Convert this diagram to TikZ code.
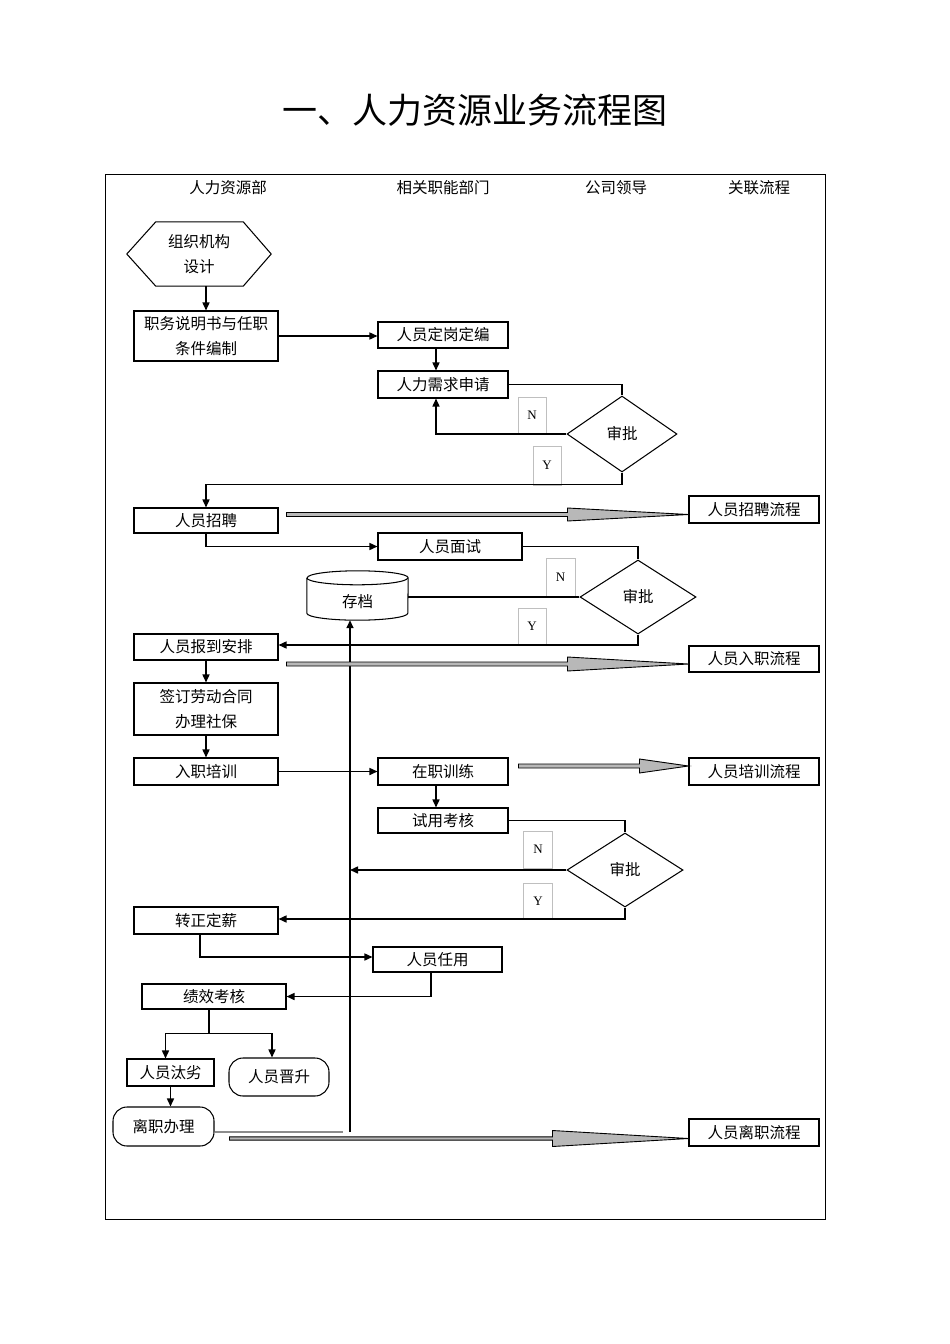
\documentclass[tikz,border=0pt]{standalone}
\usepackage{fontspec}
\setmainfont{Liberation Serif}
\newfontfamily\cjk{Noto Sans CJK SC}
\usetikzlibrary{arrows.meta,shapes.geometric,calc}
\newcommand\blockarrow[5]{\draw[barrow] let \p1=(#1), \p2=(#2) in (\x1,\y1+#4) -- (\x2-#3,\y1+#4) -- (\x2-#3,\y1+#5) -- (\x2,\y1) -- (\x2-#3,\y1-#5) -- (\x2-#3,\y1-#4) -- (\x1,\y1-#4) -- cycle;}
\tikzset{
  box/.style={draw, line width=1.05pt, rectangle, inner sep=0pt, font=\cjk\fontsize{15.5}{25}\selectfont, align=center},
  rbox/.style={box, rounded corners=14pt},
  plain/.style={inner sep=0pt, font=\cjk\fontsize{15.5}{25}\selectfont, align=center},
  yn/.style={draw=black!25, line width=0.7pt, inner sep=0pt, font=\fontsize{13}{13}\selectfont},
  dia/.style={diamond, draw, line width=1.05pt, inner sep=0pt, font=\cjk\fontsize{15.5}{20}\selectfont},
  conn/.style={line width=1.5pt},
  arr/.style={conn, -{Triangle[length=8pt,width=7pt]}},
  barrow/.style={draw, line width=0.9pt, fill=black!28},
  thick edge/.style={line width=1.9pt},
}
\begin{document}
\begin{tikzpicture}[x=1pt,y=-1pt]
\useasboundingbox (0,0) rectangle (950,1344);
% title
\node[font=\cjk\fontsize{35}{40}\selectfont] (title) at (475,110) {一、人力资源业务流程图};
% frame
\draw[line width=1pt] (105,174) rectangle (825,1219);
% headers
\node[plain] (h1) at (228,188) {人力资源部};
\node[plain] (h2) at (443,188) {相关职能部门};
\node[plain] (h3) at (616,188) {公司领导};
\node[plain] (h4) at (759,188) {关联流程};
% N/Y label boxes
\node[yn, minimum width=28pt, minimum height=36pt] (n1) at (532,415) {N};
\node[yn, minimum width=28pt, minimum height=39pt] (y1) at (547,465.5) {Y};
\node[yn, minimum width=29pt, minimum height=39pt] (n2) at (560.5,577.5) {N};
\node[yn, minimum width=28pt, minimum height=37pt] (y2) at (532,626.5) {Y};
\node[yn, minimum width=29pt, minimum height=37pt] (n3) at (538,849.5) {N};
\node[yn, minimum width=29pt, minimum height=36pt] (y3) at (538,901) {Y};
% hexagon
\node[plain, minimum width=144pt, minimum height=64pt] (hex) at (199,254) {组织机构\\设计};
\draw[line width=1.05pt] (hex.west) -- ([xshift=29pt]hex.north west) -- ([xshift=-28pt]hex.north east) -- (hex.east) -- ([xshift=-28pt]hex.south east) -- ([xshift=29pt]hex.south west) -- cycle;
% boxes
\node[box, minimum width=144pt, minimum height=50pt] (job) at (206,336) {职务说明书与任职\\条件编制};
\node[box, minimum width=130pt, minimum height=26pt] (dg) at (443,335) {人员定岗定编};
\node[box, minimum width=130pt, minimum height=27pt] (xq) at (443,384.5) {人力需求申请};
\node[dia, minimum width=110pt, minimum height=76pt] (d1) at (622,434) {审批};
\node[box, minimum width=144pt, minimum height=25pt] (zp) at (206,520.5) {人员招聘};
\node[box, minimum width=130pt, minimum height=27pt] (zplc) at (754,509.5) {人员招聘流程};
\node[box, minimum width=144pt, minimum height=27pt] (ms) at (450,546.5) {人员面试};
\node[dia, minimum width=116pt, minimum height=74pt] (d2) at (638,597) {审批};
\node[plain, minimum width=101pt, minimum height=49pt] (cd) at (357.5,595.5) {};
\node[plain] (cdt) at (357.5,602) {存档};
\draw[line width=1.05pt] ([yshift=-7pt]cd.north west) -- ([yshift=7pt]cd.south west) arc[start angle=180, end angle=360, x radius=50.5pt, y radius=7pt] -- ([yshift=-7pt]cd.north east) arc[start angle=0, end angle=180, x radius=50.5pt, y radius=7pt];
\draw[line width=1.05pt] ([yshift=-7pt]cd.north west) arc[start angle=180, end angle=360, x radius=50.5pt, y radius=7pt];
\node[box, minimum width=144pt, minimum height=26pt] (bd) at (206,647) {人员报到安排};
\node[box, minimum width=130pt, minimum height=26pt] (rzlc) at (754,659) {人员入职流程};
\node[box, minimum width=144pt, minimum height=52pt] (qd) at (206,709) {签订劳动合同\\办理社保};
\node[box, minimum width=144pt, minimum height=27pt] (px) at (206,771.5) {入职培训};
\node[box, minimum width=130pt, minimum height=27pt] (zzxl) at (443,771.5) {在职训练};
\node[box, minimum width=130pt, minimum height=27pt] (pxlc) at (754,771.5) {人员培训流程};
\node[box, minimum width=130pt, minimum height=25pt] (sykh) at (443,820.5) {试用考核};
\node[dia, minimum width=116pt, minimum height=74pt] (d3) at (625,870) {审批};
\node[box, minimum width=144pt, minimum height=27pt] (zzdx) at (206,920.5) {转正定薪};
\node[box, minimum width=129pt, minimum height=25pt] (rygy) at (437.5,959.5) {人员任用};
\node[box, minimum width=144pt, minimum height=25pt] (jxkh) at (214,996.5) {绩效考核};
\node[box, minimum width=87pt, minimum height=27pt] (tl) at (170.5,1072.5) {人员汰劣};
\node[rbox, minimum width=100pt, minimum height=38pt] (jsh) at (279,1077) {人员晋升};
\node[rbox, minimum width=101pt, minimum height=39pt] (lz) at (163.5,1126.5) {离职办理};
\node[box, minimum width=130pt, minimum height=27pt] (lzlc) at (754,1132.5) {人员离职流程};
% thicker edges seen in the reference
\draw[thick edge] (job.north west) -- (job.north east);
\draw[thick edge] (dg.north west) -- (dg.north east);
\draw[thick edge] (zp.north west) -- (zp.south west);
\draw[thick edge] (bd.south west) -- (bd.south east);
\draw[thick edge] (rzlc.south west) -- (rzlc.south east);
\draw[thick edge] (px.south west) -- (px.south east);
\draw[thick edge] (zzxl.south west) -- (zzxl.south east);
\draw[thick edge] (pxlc.south west) -- (pxlc.south east);
\coordinate (vb) at (350,1132);
% connectors
\draw[arr] (hex.south -| job.north) -- (job.north);
\draw[arr] (job.east) -- (job.east -| dg.west);
\draw[arr] ([xshift=-7pt]dg.south) -- ([xshift=-7pt]xq.north);
\draw[conn] (xq.east) -| (d1.north);
\draw[arr] (d1.west) -| ([xshift=-7pt]xq.south);
\draw[arr] (d1.south) |- ([yshift=23pt]zp.north) -- (zp.north);
\draw[arr] (zp.south) |- (ms.west);
\draw[conn] (ms.east) -| (d2.north);
\draw[conn] (d2.west) -- (d2.west -| cd.east);
\draw[arr] (d2.south) |- ([yshift=2pt]bd.east);
\draw[arr] (bd.south) -- (qd.north);
\draw[arr] (qd.south) -- (px.north);
\draw[arr] (px.east) -- (px.east -| zzxl.west);
\draw[arr] ([xshift=-7pt]zzxl.south) -- ([xshift=-7pt]sykh.north);
\draw[conn] (sykh.east) -| (d3.north);
\draw[arr] (d3.west) -- (d3.west -| vb);
\draw[arr] (d3.south) |- ([yshift=1.5pt]zzdx.east);
\draw[arr] ([xshift=-6pt]zzdx.south) |- ([yshift=2.5pt]rygy.west);
\draw[arr] ([xshift=-6.5pt]rygy.south) |- (jxkh.east);
\draw[conn] ([xshift=-5pt]jxkh.south) -- ++(0,24) coordinate (br);
\draw[arr] (br) -| ([xshift=-5pt]tl.north);
\draw[arr] (br) -| ([xshift=-7pt]jsh.north);
\draw[arr] (tl.south) -- (tl.south |- lz.north);
\draw[black!45, line width=1.3pt] ([yshift=-5.5pt]lz.east) -- ($(vb)+(-7,0)$);
\draw[arr] (vb) -- (vb |- cd.south);
% block arrows
\coordinate (ba1) at ($(zp.east)+(8,-6)$);
\coordinate (ba2) at ($(bd.east)+(8,17)$);
\coordinate (ba3) at ($(zzxl.east)+(10,-5.5)$);
\coordinate (ba4) at ($(lz.east)+(15,12)$);
\blockarrow{ba1}{zplc.west}{121pt}{2pt}{6.5pt}
\blockarrow{ba2}{rzlc.west}{121pt}{2pt}{7pt}
\blockarrow{ba3}{pxlc.west}{49pt}{2pt}{7pt}
\blockarrow{ba4}{lzlc.west}{136pt}{1.6pt}{8pt}
\end{tikzpicture}
\end{document}
